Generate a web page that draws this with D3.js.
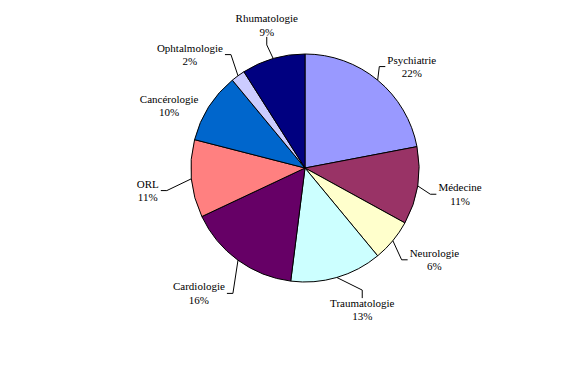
<!DOCTYPE html>
<html>
<head>
<meta charset="utf-8">
<script src="https://cdn.jsdelivr.net/npm/d3@7"></script>
<style>
  body { margin: 0; background: #fff; }
</style>
</head>
<body>
<div id="chart"></div>
<script>

// data (percent of total)
let services = ["Psychiatrie", "Médecine", "Neurologie", "Traumatologie", "Cardiologie",
	"ORL", "Cancérologie", "Ophtalmologie", "Rhumatologie"];
let shares = [22, 11, 6, 13, 16, 11, 10, 2, 9];
let colours = ["#9999FF", "#993366", "#FFFFCC", "#CCFFFF", "#660066",
	"#FF8080", "#0066CC", "#CCCCFF", "#000080"];

// hand placement of the labels, relative to the default spot outside the slice
let labelNudge = [[8, 18], [2, 2], [10, -7], [14, -7], [-15, 0], [-3, 8], [-5, 21], [-24, 12], [5, 6]];

let width = 561;
let height = 374;
let cx = 305, cy = 168;
let radius = 114;
let labelRadius = 155;

let svg = d3.select("#chart")
	.append("svg")
	.attr("width", width)
	.attr("height", height);

svg.append("rect")
	.attr("width", width)
	.attr("height", height)
	.attr("fill", "#fff");

let pie = d3.pie().sort(null).value(d => d);
let arcs = pie(shares);

let arc = d3.arc().innerRadius(0).outerRadius(radius);

let g = svg.append("g").attr("transform", `translate(${cx},${cy})`);

g.selectAll("path")
	.data(arcs)
	.enter().append("path")
	.attr("d", arc)
	.attr("fill", (d, i) => colours[i])
	.attr("stroke", "#000")
	.attr("stroke-width", 1)
	.attr("stroke-linejoin", "round");

let total = d3.sum(shares);

function polar(a, r) {
	return [r * Math.sin(a), -r * Math.cos(a)];
}

arcs.forEach(function(d, i) {
	let mid = (d.startAngle + d.endAngle) / 2;
	let edge = polar(mid, radius);
	let spot = polar(mid, labelRadius);
	let lx = spot[0] + labelNudge[i][0];
	let ly = spot[1] + labelNudge[i][1];

	let label = g.append("text")
		.attr("text-anchor", "middle")
		.attr("font-family", "'Liberation Serif', 'DejaVu Serif', serif")
		.attr("font-size", "11px")
		.attr("fill", "#000");
	label.append("tspan")
		.attr("x", lx)
		.attr("y", ly - 3)
		.text(services[i]);
	label.append("tspan")
		.attr("x", lx)
		.attr("y", ly + 10.5)
		.text(Math.round(shares[i] / total * 100) + "%");

	let box = label.node().getBBox();
	let w = box.width, h = box.height;

	// leader line: slice edge -> elbow -> label side
	let attach, elbow;
	if (Math.abs(edge[0] - lx) < w / 2) {
		let dir = edge[1] > ly ? 1 : -1;
		attach = [lx, ly + dir * (h / 2 - 1)];
		elbow = [lx, attach[1] + dir * 8];
	} else {
		let dir = edge[0] > lx ? 1 : -1;
		attach = [lx + dir * (w / 2 + 2), ly];
		elbow = [attach[0] + dir * 6, ly];
	}
	let dist = Math.hypot(edge[0] - attach[0], edge[1] - attach[1]);
	if (dist > 14) {
		g.append("path")
			.attr("d", d3.line()([edge, elbow, attach]))
			.attr("fill", "none")
			.attr("stroke", "#000")
			.attr("stroke-width", 1);
	}
});

</script>
</body>
</html>
